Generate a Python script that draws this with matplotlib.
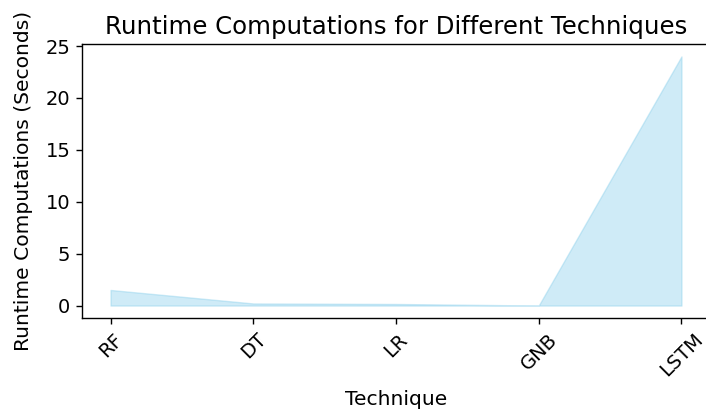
import matplotlib
matplotlib.use("Agg")
import matplotlib.pyplot as plt

techniques = ["RF", "DT", "LR", "GNB", "LSTM"]
runtime = [1.5, 0.2, 0.15, 0.0, 24.0]

fig = plt.figure(figsize=(7.06, 4.11), dpi=100)
ax = fig.add_axes([82 / 706, 1 - 318 / 411, 628 / 706, 274 / 411])

x = list(range(len(techniques)))
ax.fill_between(x, runtime, color="skyblue", alpha=0.4)
ax.set_xticks(x)
ax.set_xticklabels(techniques, rotation=45, fontsize=14)
ax.tick_params(axis="y", labelsize=14)
ax.tick_params(length=4.2, width=1.0, pad=4.2)
for s in ax.spines.values():
    s.set_linewidth(1.0)
ax.set_title("Runtime Computations for Different Techniques", fontsize=17.6, pad=7)
ax.set_xlabel("Technique", fontsize=14.6, labelpad=7)
ax.set_ylabel("Runtime Computations (Seconds)", fontsize=14.6, labelpad=9)

fig.savefig("out.png", dpi=100)
